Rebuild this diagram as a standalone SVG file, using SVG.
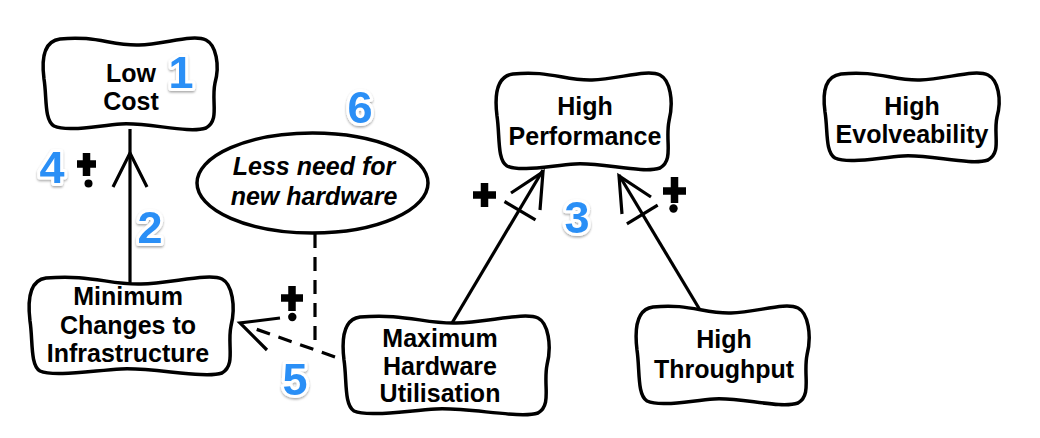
<svg xmlns="http://www.w3.org/2000/svg" width="1040" height="438" viewBox="0 0 1040 438">
<defs>
<filter id="sh" x="-30%" y="-30%" width="160%" height="160%">
<feDropShadow dx="0" dy="1.5" stdDeviation="1.2" flood-color="#000" flood-opacity="0.35"/>
</filter>
<style>
.box{fill:#fff;stroke:#000;stroke-width:3.5;stroke-linejoin:round}
.t{font-family:"Liberation Sans",Arial,Helvetica,sans-serif;font-weight:bold;font-size:25px;fill:#000;text-anchor:middle}
.it{font-style:italic}
.num{font-family:"Liberation Sans",Arial,Helvetica,sans-serif;font-weight:bold;font-size:45px;fill:#2b8ff6;stroke:#fff;stroke-width:6;paint-order:stroke;stroke-linejoin:round;text-anchor:middle;filter:url(#sh)}
.ln{fill:none;stroke:#000;stroke-width:3.2;stroke-linecap:butt}
.dash{fill:none;stroke:#000;stroke-width:3.2;stroke-dasharray:14 9}
.sym{fill:none;stroke:#000;stroke-width:7.5}
</style>
</defs>
<rect width="1040" height="438" fill="#fff"/>

<g id="connectors">
<path class="ln" d="M130,129 L130,285"/>
<path class="ln" d="M113,187 L130,153 L147,187"/>
<path class="ln" d="M452,323 L543,170"/>
<path class="ln" d="M511,193 L543,172 L540,210"/>
<path class="ln" d="M504.5,201.5 L535.5,219.9"/>
<path class="ln" d="M700,310 L619,175"/>
<path class="ln" d="M622,214 L619,176 L651,197"/>
<path class="ln" d="M657.7,205.2 L626.9,223.8"/>
<path class="dash" d="M335,357 L250,327"/>
<path class="ln" d="M267,350 L240,323 L280,318"/>
<path class="dash" d="M315,234 L315,349"/>
</g>

<g id="node-low-cost">
<path class="box" transform="translate(42,37)" d="M18,2 C53,-2 70,9 97,8 C123,7 151,-3 164,3 C174,8 178,28 173,46 C169,65 178,83 164,91 C146,97 106,85 79,87 C53,89 25,95 12,89 C2,83 5,60 2,42 C-1,19 3,4 18,2Z"/>
<text class="t" x="131" y="82">Low</text>
<text class="t" x="131" y="110">Cost</text>
</g>

<g id="node-minimum-changes">
<path class="box" transform="translate(28,276)" d="M18,2 C62,-2 82,9 113,8 C144,7 181,-3 194,3 C204,8 208,30 203,50 C199,69 208,89 194,97 C176,103 124,91 93,93 C62,95 25,101 12,95 C2,89 5,64 2,45 C-1,20 3,4 18,2Z"/>
<text class="t" x="128" y="305">Minimum</text>
<text class="t" x="128" y="334">Changes to</text>
<text class="t" x="128" y="362">Infrastructure</text>
</g>

<g id="node-less-need">
<ellipse cx="312.5" cy="183" rx="115.5" ry="50" fill="#fff" stroke="#000" stroke-width="3.5"/>
<text class="t it" x="314" y="175">Less need for</text>
<text class="t it" x="314" y="205">new hardware</text>
</g>

<g id="node-high-performance">
<path class="box" transform="translate(495,72)" d="M18,2 C53,-2 71,9 97,8 C124,7 152,-3 165,3 C175,8 179,29 174,49 C170,69 179,88 165,96 C147,102 106,90 80,92 C53,94 25,100 12,94 C2,88 5,64 2,44 C-1,20 3,4 18,2Z"/>
<text class="t" x="585" y="115">High</text>
<text class="t" x="585" y="145">Performance</text>
</g>

<g id="node-high-evolveability">
<path class="box" transform="translate(823,72)" d="M18,2 C53,-2 71,9 97,8 C124,7 152,-3 165,3 C175,8 179,27 174,45 C170,63 179,80 165,88 C147,94 106,82 80,84 C53,86 25,92 12,86 C2,80 5,58 2,40 C-1,18 3,4 18,2Z"/>
<text class="t" x="912" y="115">High</text>
<text class="t" x="912" y="143">Evolveability</text>
</g>

<g id="node-maximum-hardware">
<path class="box" transform="translate(342,315)" d="M18,2 C62,-2 83,9 114,8 C146,7 183,-3 196,3 C206,8 210,30 205,50 C201,70 210,90 196,98 C178,104 125,92 94,94 C62,96 25,102 12,96 C2,90 5,65 2,45 C-1,20 3,4 18,2Z"/>
<text class="t" x="440" y="347">Maximum</text>
<text class="t" x="440" y="375">Hardware</text>
<text class="t" x="440" y="402">Utilisation</text>
</g>

<g id="node-high-throughput">
<path class="box" transform="translate(635,305)" d="M18,2 C53,-2 70,9 96,8 C123,7 150,-3 163,3 C173,8 177,30 172,50 C168,70 177,90 163,98 C145,104 105,92 79,94 C53,96 25,102 12,96 C2,90 5,65 2,45 C-1,20 3,4 18,2Z"/>
<text class="t" x="724" y="348">High</text>
<text class="t" x="724" y="378">Throughput</text>
</g>

<g id="contribution-symbols">
<path class="sym" d="M77,164 H96 M86.5,153 V176"/>
<circle cx="88.5" cy="183.5" r="4"/>
<path class="sym" d="M281,298 H303 M292,286 V311"/>
<circle cx="292.3" cy="317" r="4.2"/>
<path class="sym" d="M473,195 H496 M484.5,183 V207"/>
<path class="sym" d="M663,191 H686 M674.5,177 V203"/>
<circle cx="673.5" cy="208.5" r="4.2"/>
</g>

<g id="step-numbers">
<text class="num" x="181" y="88">1</text>
<text class="num" x="150" y="243">2</text>
<text class="num" x="577" y="233">3</text>
<text class="num" x="52" y="183">4</text>
<text class="num" x="295" y="395">5</text>
<text class="num" x="360" y="123">6</text>
</g>
</svg>
